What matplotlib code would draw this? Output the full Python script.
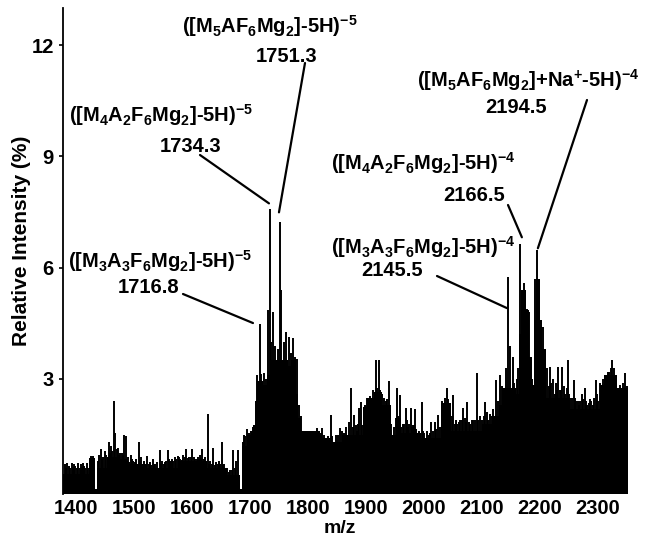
import matplotlib
matplotlib.use("Agg")
import matplotlib.pyplot as plt
import numpy as np

plt.rcParams['font.family'] = ['Liberation Sans', 'DejaVu Sans']
plt.rcParams['font.weight'] = 'bold'
plt.rcParams['mathtext.fontset'] = 'custom'
plt.rcParams['mathtext.rm'] = 'Liberation Sans:bold'
plt.rcParams['mathtext.it'] = 'Liberation Sans:bold'
plt.rcParams['mathtext.bf'] = 'Liberation Sans:bold'
plt.rcParams['mathtext.default'] = 'rm'

# ---- data: solid background envelope (step, m/z breakpoints -> level %) ----
env_mz = [1377, 1423, 1433, 1437, 1453, 1470, 1488, 1522, 1579, 1626, 1660, 1682,
          1686, 1697, 1705, 1709, 1712, 1722, 1729, 1737, 1765, 1770, 1780, 1783,
          1788, 1820, 1840, 1858, 1895, 1902, 1914, 1927, 1943, 1952, 1961, 1995,
          2030, 2047, 2100, 2118, 2130, 2135, 2158, 2164, 2167, 2176, 2182, 2186,
          2190, 2193, 2201, 2204, 2211, 2252, 2303, 2310, 2333, 2352]
env_level = [0.45, 0.88, 0.03, 0.6, 0.9, 0.85, 0.7, 0.6, 0.78, 0.6, 0.42, 0.03,
             1.2, 1.4, 1.75, 2.4, 2.95, 2.85, 3.1, 3.5, 3.35, 3.5, 2.6, 1.95,
             1.6, 1.4, 1.3, 1.5, 2.25, 2.5, 2.65, 2.3, 1.5, 1.95, 1.55, 1.4,
             2.35, 1.6, 1.8, 2.0, 2.3, 2.75, 2.6, 4.2, 5.4, 4.85, 3.6, 2.85,
             4.6, 5.7, 4.6, 3.8, 2.5, 2.2, 2.85, 3.1, 2.75, 2.75]

# ---- data: individual peaks (m/z, relative intensity %) ----
peak_mz = [1381, 1385, 1389, 1393, 1397, 1401, 1404, 1408, 1412, 1416, 1419, 1426, 1430,
           1440, 1443, 1447, 1450, 1456, 1460, 1465, 1468, 1472, 1476, 1479, 1483, 1486,
           1490, 1494, 1498, 1503, 1508, 1512, 1517, 1522, 1527, 1532, 1537, 1544, 1549,
           1553, 1558, 1562, 1566, 1570, 1575, 1580, 1585, 1590, 1595, 1600, 1605, 1610,
           1614, 1618, 1622, 1627, 1631, 1636, 1641, 1646, 1651, 1655, 1661, 1666, 1671,
           1676, 1679, 1690, 1694, 1698, 1702, 1706, 1712, 1716.8, 1719, 1724, 1727, 1731,
           1734.3, 1737, 1740, 1744, 1748, 1751.3, 1754, 1758, 1762, 1767, 1770, 1774, 1778,
           1781, 1785, 1788, 1795, 1803, 1809, 1815, 1820, 1825, 1832, 1839, 1845, 1849,
           1856, 1862, 1870, 1874, 1879, 1884, 1888, 1891, 1904, 1910, 1917, 1922, 1928,
           1934, 1940, 1948, 1953, 1958.5, 1964, 1969, 1973, 1977, 1981, 1985, 1989, 1996,
           2003, 2008, 2013, 2019, 2024, 2034, 2039, 2045, 2050, 2057, 2062, 2067, 2075,
           2080, 2085, 2091, 2097, 2105, 2111, 2117, 2124, 2131, 2137, 2141, 2145.5, 2149,
           2153, 2160, 2166.5, 2172, 2177, 2181, 2187, 2191, 2194.5, 2198, 2206, 2212, 2217,
           2223, 2228, 2232, 2236, 2239, 2243, 2248, 2252, 2258, 2263, 2268, 2272, 2278,
           2282, 2286, 2291, 2296, 2301, 2306, 2312, 2318, 2322, 2325, 2329, 2335, 2341,
           2347, 2350]
peak_int = [0.72, 0.74, 0.6, 0.74, 0.72, 0.6, 0.74, 0.7, 0.74, 0.6, 0.74, 0.93, 0.93,
            0.95, 1.1, 0.9, 1.05, 1.3, 1.2, 2.4, 1.55, 1.15, 1.0, 1.0, 1.5, 1.45,
            0.9, 0.95, 0.8, 0.85, 1.3, 0.9, 0.8, 0.93, 0.75, 0.85, 0.7, 1.09, 0.8,
            0.75, 1.09, 0.8, 0.85, 0.9, 0.93, 0.85, 0.95, 1.12, 0.9, 1.12, 0.85, 0.9,
            0.95, 1.12, 0.9, 2.05, 0.8, 1.15, 0.75, 0.8, 1.3, 0.7, 0.6, 0.55, 1.09,
            0.8, 1.09, 1.5, 1.65, 1.55, 1.6, 1.7, 3.1, 4.48, 3.13, 3.16, 3.0, 4.85,
            7.59, 4.0, 4.8, 3.9, 3.8, 7.22, 5.4, 4.0, 4.27, 4.12, 3.7, 4.1, 3.6,
            3.55, 2.3, 2.0, 1.6, 1.5, 1.45, 1.69, 1.5, 1.68, 1.4, 2.03, 1.3, 1.5,
            1.68, 1.55, 1.85, 2.77, 2.03, 1.6, 2.22, 2.39, 2.5, 2.45, 3.51, 3.51, 2.6,
            2.4, 2.95, 1.7, 2.75, 2.57, 1.8, 2.22, 1.7, 2.22, 1.75, 2.2, 1.5, 2.39,
            1.4, 1.5, 1.85, 1.85, 2.03, 2.35, 2.77, 2.3, 2.57, 1.8, 1.9, 2.22, 2.39,
            1.8, 1.9, 3.16, 2.0, 2.39, 1.9, 2.0, 2.97, 3.11, 2.6, 3.3, 5.74, 3.9,
            3.6, 3.0, 6.65, 5.6, 4.9, 4.8, 3.0, 5.7, 6.49, 5.6, 4.4, 3.3, 3.33,
            3.0, 2.9, 3.33, 2.7, 3.33, 2.6, 3.5, 2.5, 2.97, 2.4, 2.3, 2.6, 2.75,
            2.3, 2.45, 2.3, 2.97, 2.4, 2.8, 2.9, 3.2, 3.3, 3.5, 3.1, 2.7, 2.7,
            3.16, 2.8]

# ---- data: smaller background peaks (comb texture) ----
minor_mz = [1383, 1387, 1395, 1399, 1406, 1410, 1414, 1421, 1438, 1445, 1452, 1458,
            1462, 1470, 1474, 1481, 1488, 1492, 1496, 1501, 1505, 1510, 1515, 1519,
            1525, 1530, 1535, 1540, 1547, 1551, 1556, 1560, 1564, 1568, 1573, 1578,
            1583, 1588, 1593, 1598, 1603, 1608, 1612, 1616, 1620, 1625, 1629, 1634,
            1639, 1644, 1649, 1653, 1658, 1664, 1669, 1674, 1688, 1692, 1696, 1700,
            1704, 1792, 1798, 1800, 1806, 1812, 1818, 1823, 1828, 1835, 1842, 1852,
            1859, 1866, 1877, 1882, 1886, 1894, 1898, 1901, 1907, 1913, 1919, 1925,
            1931, 1937, 1944, 1951, 1956, 1961, 1966, 1971, 1975, 1979, 1983, 1987,
            1992, 1999, 2001, 2006, 2011, 2016, 2021, 2027, 2031, 2037, 2042, 2048,
            2053, 2055, 2060, 2065, 2070, 2073, 2078, 2083, 2088, 2094, 2100, 2103,
            2108, 2114, 2120, 2127, 2134, 2156, 2163, 2184, 2202, 2209, 2215, 2220,
            2226, 2230, 2234, 2241, 2246, 2250, 2255, 2261, 2266, 2270, 2275, 2280,
            2284, 2289, 2294, 2298, 2304, 2309, 2315, 2320, 2327, 2332, 2338, 2344]
minor_int = [0.6, 0.65, 0.62, 0.66, 0.6, 0.62, 0.65, 0.6, 0.8, 0.85, 0.95, 1.0,
             1.05, 1.1, 0.95, 0.95, 0.8, 0.75, 0.85, 0.75, 0.7, 0.8, 0.7, 0.72,
             0.7, 0.68, 0.72, 0.75, 0.7, 0.72, 0.8, 0.85, 0.8, 0.78, 0.85, 0.9,
             0.82, 0.9, 0.88, 0.9, 0.9, 0.85, 0.85, 0.88, 0.85, 0.8, 0.7, 0.72,
             0.68, 0.7, 0.72, 0.68, 0.55, 0.5, 0.55, 0.6, 1.3, 1.45, 1.5, 1.5,
             1.6, 1.5, 1.55, 1.45, 1.5, 1.6, 1.5, 1.55, 1.5, 1.45, 1.45, 1.5,
             1.6, 1.7, 1.7, 1.75, 1.8, 1.75, 2.3, 2.5, 2.55, 2.7, 2.75, 2.7,
             2.5, 2.45, 1.8, 1.95, 2.0, 1.7, 1.8, 1.9, 1.8, 1.7, 1.75, 1.65,
             1.6, 1.6, 1.55, 1.6, 1.55, 1.6, 1.65, 1.7, 2.4, 2.5, 2.45, 2.0,
             1.8, 1.9, 1.85, 1.9, 1.95, 1.85, 1.85, 1.9, 1.9, 1.9, 1.9, 2.0,
             2.1, 2.05, 2.2, 2.4, 2.8, 2.9, 3.3, 3.2, 4.0, 3.0, 2.8, 2.9,
             2.6, 2.7, 2.7, 2.8, 2.75, 2.6, 2.5, 2.5, 2.4, 2.4, 2.45, 2.4,
             2.35, 2.4, 2.5, 2.6, 2.9, 3.0, 3.1, 3.2, 3.3, 2.9, 2.85, 2.9]

x_ticks = [1400, 1500, 1600, 1700, 1800, 1900, 2000, 2100, 2200, 2300]
y_ticks = [3, 6, 9, 12]

# ---- annotations: label, value text ----
ann_labels = [r'([M$_5$AF$_6$Mg$_2$]-5H)$^{-5}$',
              r'([M$_4$A$_2$F$_6$Mg$_2$]-5H)$^{-5}$',
              r'([M$_3$A$_3$F$_6$Mg$_2$]-5H)$^{-5}$',
              r'([M$_5$AF$_6$Mg$_2$]+Na$^{+}$-5H)$^{-4}$',
              r'([M$_4$A$_2$F$_6$Mg$_2$]-5H)$^{-4}$',
              r'([M$_3$A$_3$F$_6$Mg$_2$]-5H)$^{-4}$']
ann_values = ['1751.3', '1734.3', '1716.8', '2194.5', '2166.5', '2145.5']

W, H = 645, 536
fig = plt.figure(figsize=(W / 100, H / 100), dpi=100)
ax = fig.add_axes([63 / W, 1 - 494 / H, (628 - 63) / W, (494 - 8) / H])

ymin = -0.1
ax.fill_between(env_mz, ymin, env_level, step='post', color='black', lw=0, zorder=2)
ax.vlines(minor_mz, ymin, minor_int, color='black', lw=1.4, zorder=3)
ax.vlines(peak_mz, ymin, peak_int, color='black', lw=1.4, zorder=3)

ax.set_xlim(1377.5, 2352)
ax.set_ylim(ymin, 13.0)
ax.set_xticks(x_ticks)
ax.set_yticks(y_ticks)
ax.tick_params(axis='x', length=0, pad=3.5, labelsize=14.5)
ax.tick_params(axis='y', direction='out', length=3, width=1.2, pad=3.5, labelsize=14.5)
for lab in ax.get_xticklabels() + ax.get_yticklabels():
    lab.set_fontweight('bold')
for s in ['top', 'right', 'bottom']:
    ax.spines[s].set_visible(False)
ax.spines['left'].set_linewidth(1.3)

fig.text(22 / W, 1 - 241 / H, 'Relative Intensity (%)', rotation=90, ha='center',
         va='center', fontsize=15, fontweight='bold')
fig.text(340 / W, 1 - 533 / H, 'm/z', ha='center', va='baseline', fontsize=14,
         fontweight='bold')


def fp(x, y):
    return (x / W, 1 - y / H)


def px2data(x, y):
    return (1400 + (x - 76) / 0.58, (490.7 - y) / 37.2)


# label placement (pixel positions in the reference), anchors
lab_pos = [(270, 33, 'center'), (161, 122, 'center'), (68, 268, 'left'),
           (528, 87, 'center'), (515, 170, 'right'), (515, 254, 'right')]
val_pos = [(287, 62), (191, 152), (149, 293), (516, 113), (474, 201), (392, 276)]
line_top = [(305, 63), (200, 155), (183, 294), (587, 100), (508, 205), (437, 276)]
line_bot = [(279, 212), (269, 203), (253, 323), (538, 248), (522, 237), (507, 308)]

for lab, val, lp, vp, lt, lb in zip(ann_labels, ann_values, lab_pos, val_pos, line_top, line_bot):
    fig.text(*fp(lp[0], lp[1]), lab, ha=lp[2], va='baseline', fontsize=14.5, fontweight='bold')
    fig.text(*fp(*vp), val, ha='center', va='baseline', fontsize=14.5, fontweight='bold')
    ax.annotate('', xy=px2data(*lb), xycoords='data', xytext=fp(*lt),
                textcoords='figure fraction',
                arrowprops=dict(arrowstyle='-', lw=1.6, color='black',
                                shrinkA=0, shrinkB=0), annotation_clip=False)

fig.savefig('out.png', dpi=100)
